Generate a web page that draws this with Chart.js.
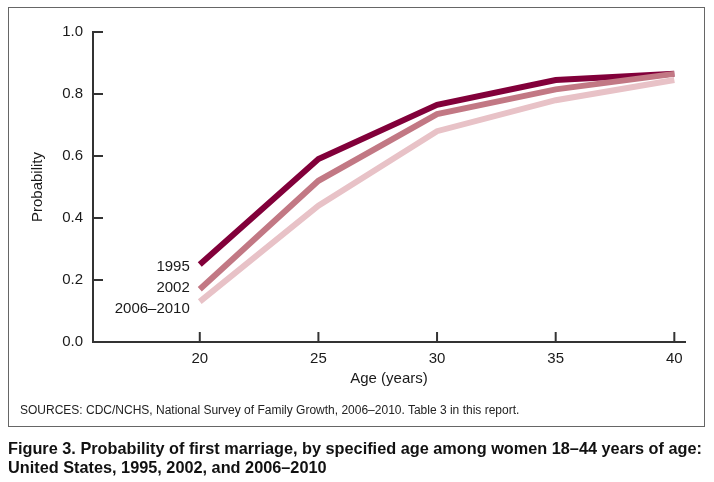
<!DOCTYPE html>
<html>
<head>
<meta charset="utf-8">
<script src="https://cdn.jsdelivr.net/npm/chart.js@4"></script>
<style>
  body { margin: 0; background: #fff; font-family: "Liberation Sans", Arial, sans-serif; }
  #wrap { position: relative; width: 714px; height: 482px; }
  #box { position: absolute; left: 8px; top: 7px; width: 697px; height: 420px; border: 1.5px solid #666; box-sizing: border-box; }
  #sources { position: absolute; left: 20px; top: 403px; font-size: 12px; color: #222; }
  #caption { position: absolute; left: 8px; top: 439px; font-family: "Liberation Sans Narrow", "Liberation Sans", sans-serif; font-weight: bold; font-size: 16.3px; line-height: 19px; color: #111; }
  canvas { position: absolute; left: 0; top: 0; }
</style>
</head>
<body>
<div id="wrap">
  <div id="box"></div>
  <canvas id="chart" width="714" height="482"></canvas>
  <div id="sources">SOURCES: CDC/NCHS, National Survey of Family Growth, 2006–2010. Table 3 in this report.</div>
  <div id="caption">Figure 3. Probability of first marriage, by specified age among women 18–44 years of age:<br>United States, 1995, 2002, and 2006–2010</div>
</div>
<script>
// data
const ages = [20, 25, 30, 35, 40];
const years = ["1995", "2002", "2006–2010"];
const p1995 = [0.25, 0.59, 0.765, 0.845, 0.865];
const p2002 = [0.17, 0.52, 0.735, 0.815, 0.865];
const p2006 = [0.13, 0.44, 0.68, 0.78, 0.845];
const yTicks = [0, 0.2, 0.4, 0.6, 0.8, 1.0];
const colors = ["#82003a", "#c27884", "#e8c2c7"];

const FONT = "Liberation Sans";

function toPoints(vals) {
  return vals.map((v, i) => ({ x: ages[i], y: v }));
}

// tick marks drawn inside the plot, like the original
const innerTicks = {
  id: "innerTicks",
  afterDraw(chart) {
    const ctx = chart.ctx;
    const x = chart.scales.x, y = chart.scales.y;
    const area = chart.chartArea;
    ctx.save();
    ctx.strokeStyle = "#333";
    ctx.lineWidth = 2;
    yTicks.forEach(t => {
      const py = y.getPixelForValue(t);
      ctx.beginPath();
      ctx.moveTo(area.left, py);
      ctx.lineTo(area.left + 10, py);
      ctx.stroke();
    });
    ages.forEach(a => {
      const px = x.getPixelForValue(a);
      ctx.beginPath();
      ctx.moveTo(px, area.bottom);
      ctx.lineTo(px, area.bottom - 10);
      ctx.stroke();
    });
    ctx.restore();
  }
};

// series names next to the first point of each line
const lineLabels = {
  id: "lineLabels",
  afterDatasetsDraw(chart) {
    const ctx = chart.ctx;
    const mid = chart.getDatasetMeta(1).data[0];
    ctx.save();
    ctx.font = "15px " + FONT;
    ctx.fillStyle = "#1a1a1a";
    ctx.textAlign = "right";
    ctx.textBaseline = "middle";
    years.forEach((name, i) => {
      ctx.fillText(name, mid.x - 10, mid.y - 1 + (i - 1) * 21);
    });
    ctx.restore();
  }
};

new Chart(document.getElementById("chart"), {
  type: "line",
  data: {
    datasets: [p1995, p2002, p2006].map((vals, i) => ({
      label: years[i],
      data: toPoints(vals),
      borderColor: colors[i],
      borderWidth: 6,
      borderCapStyle: "butt",
      borderJoinStyle: "miter",
      pointRadius: 0,
      tension: 0,
      fill: false,
      order: 3 - i
    })).reverse()
  },
  options: {
    responsive: false,
    animation: false,
    layout: { padding: { left: 20, top: 32, right: 29, bottom: 94 } },
    plugins: { legend: { display: false }, tooltip: { enabled: false } },
    scales: {
      x: {
        type: "linear",
        min: 15.5,
        max: 40.45,
        afterBuildTicks: s => { s.ticks = ages.map(v => ({ value: v })); },
        afterFit: s => { s.height = 46; },
        grid: { display: false, drawTicks: false },
        border: { display: true, color: "#333", width: 2 },
        ticks: { color: "#1a1a1a", font: { family: FONT, size: 15 }, padding: 8, maxRotation: 0 },
        title: { display: true, text: "Age (years)", color: "#1a1a1a", font: { family: FONT, size: 15 }, padding: 0 }
      },
      y: {
        min: 0,
        max: 1,
        afterBuildTicks: s => { s.ticks = yTicks.map(v => ({ value: v })); },
        afterFit: s => { s.width = 73; },
        grid: { display: false, drawTicks: false },
        border: { display: true, color: "#333", width: 2 },
        ticks: { color: "#1a1a1a", font: { family: FONT, size: 15 }, padding: 10, callback: v => v.toFixed(1) },
        title: { display: true, text: "Probability", color: "#1a1a1a", font: { family: FONT, size: 15 }, padding: 9 }
      }
    }
  },
  plugins: [innerTicks, lineLabels]
});
</script>
</body>
</html>
